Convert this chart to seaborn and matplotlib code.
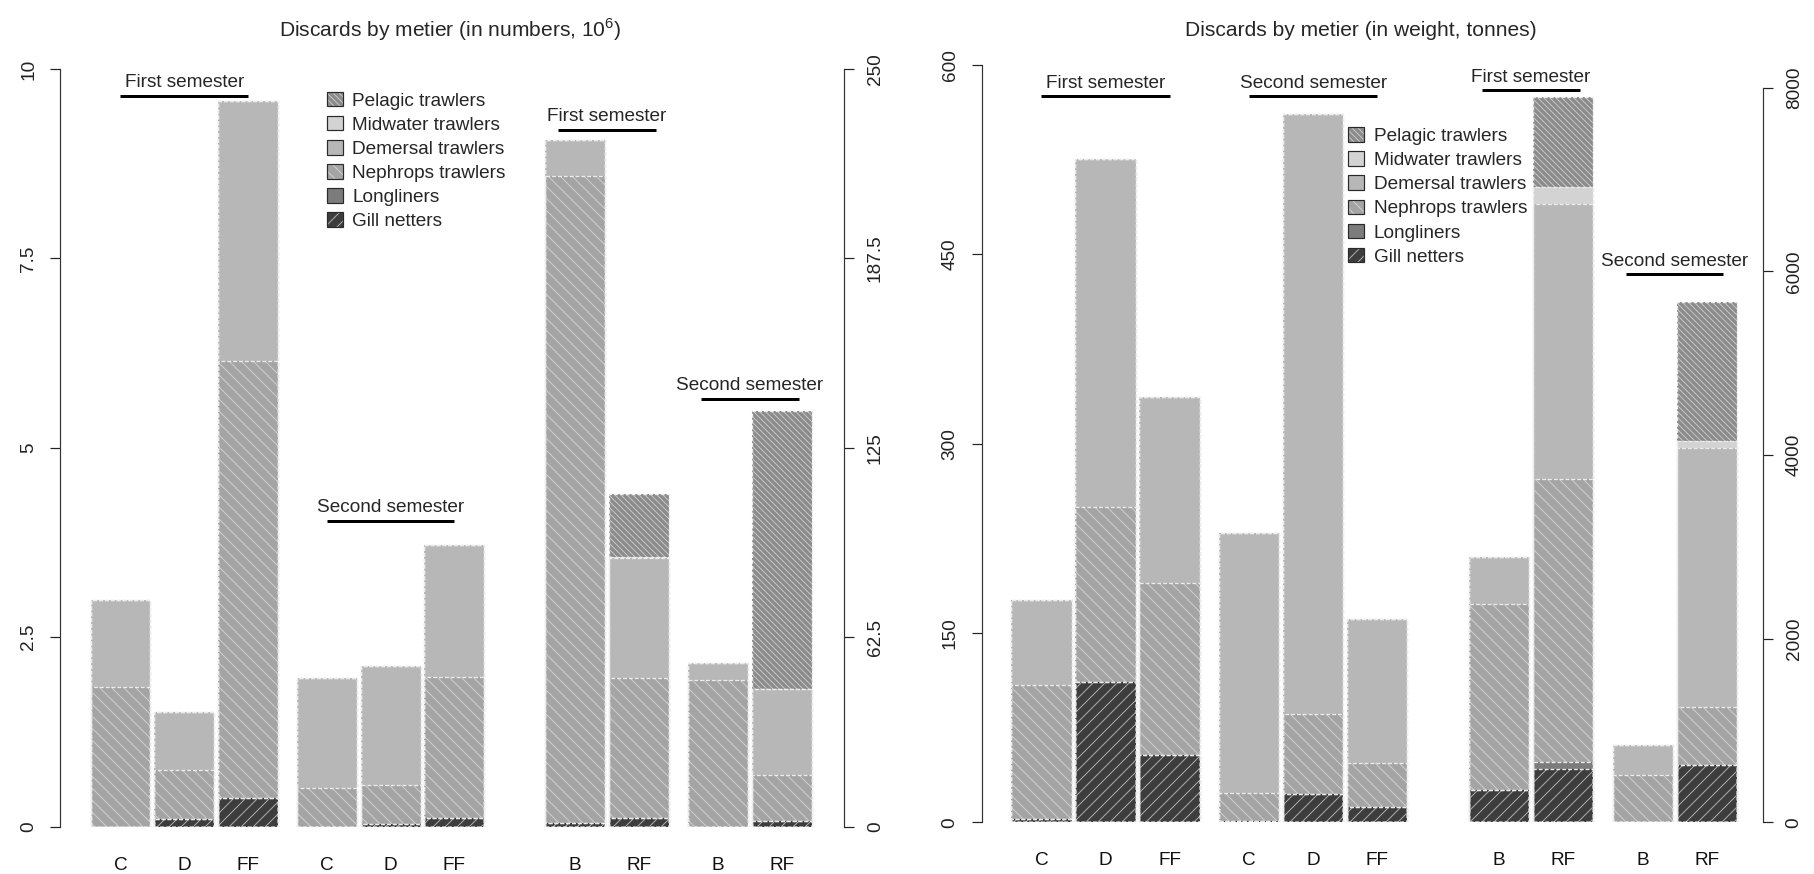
import numpy as np
import seaborn as sns
import matplotlib.pyplot as plt
from matplotlib.patches import Patch
from matplotlib import font_manager

# stacking order, bottom to top
metiers = ["Gill netters", "Longliners", "Nephrops trawlers",
           "Demersal trawlers", "Midwater trawlers", "Pelagic trawlers"]
semesters = ["First semester", "Second semester"]
ports_a = ["C", "D", "FF"]
ports_b = ["B", "RF"]

# discards in numbers (10^6), C D FF (1st sem), C D FF (2nd sem), left axis
num_a = [
    [0.0, 0.10, 0.38, 0.0, 0.035, 0.11],
    [0.0, 0.0, 0.0, 0.0, 0.0, 0.0],
    [1.85, 0.65, 5.77, 0.51, 0.515, 1.86],
    [1.14, 0.77, 3.43, 1.45, 1.57, 1.75],
    [0.0, 0.0, 0.0, 0.0, 0.0, 0.0],
    [0.0, 0.0, 0.0, 0.0, 0.0, 0.0],
]
# B RF (1st sem), B RF (2nd sem), right axis
num_b = [
    [1.1, 3.0, 0.0, 2.0],
    [0.0, 0.0, 0.0, 0.0],
    [213.6, 46.0, 48.4, 15.1],
    [11.9, 39.5, 5.7, 28.3],
    [0.0, 0.6, 0.0, 0.0],
    [0.0, 20.6, 0.0, 91.9],
]
# discards in weight (tonnes)
wt_a = [
    [2.4, 111.4, 53.3, 1.3, 22.2, 11.9],
    [0.0, 0.0, 0.0, 0.0, 0.0, 0.0],
    [106.4, 138.6, 136.0, 21.7, 63.6, 34.8],
    [67.3, 275.5, 147.4, 206.0, 475.1, 114.1],
    [0.0, 0.0, 0.0, 0.0, 0.0, 0.0],
    [0.0, 0.0, 0.0, 0.0, 0.0, 0.0],
]
wt_b = [
    [352, 577, 0, 624],
    [0, 80, 0, 0],
    [2025, 3086, 515, 635],
    [515, 2987, 327, 2814],
    [0, 189, 0, 83],
    [0, 980, 0, 1513],
]

num_ticks_l = [0, 2.5, 5, 7.5, 10]
num_ticks_r = [0, 62.5, 125, 187.5, 250]
wt_ticks_l = [0, 150, 300, 450, 600]
wt_ticks_r = [0, 2000, 4000, 6000, 8000]

# ---- style ----
sns.set_style("white")
names = {f.name for f in font_manager.fontManager.ttflist}
NARROW = "Liberation Sans Narrow" if "Liberation Sans Narrow" in names else "Liberation Sans"
plt.rcParams["font.family"] = ["Liberation Sans", "DejaVu Sans"]
plt.rcParams["mathtext.fontset"] = "custom"
plt.rcParams["mathtext.rm"] = NARROW
plt.rcParams["hatch.linewidth"] = 1.0

face = ["#3d3d3d", "#7c7c7c", "#a4a4a4", "#b7b7b7", "#d3d3d3", "#8b8b8b"]
hatches = ["//", "", "\\\\", "", "", "\\\\\\\\"]
hatch_col = ["#ababab", "#7c7c7c", "#cecece", "#b7b7b7", "#d3d3d3", "#c6c6c6"]

pos_a = [0, 1, 2, 3.24, 4.24, 5.24]
pos_b = [7.14, 8.14, 9.38, 10.38]
BAR_W = 0.94

W, H = 1814, 874
fig = plt.figure(figsize=(W / 72, H / 72), dpi=72)


def px_axes(x0, x1, y_top, y_bot):
    return fig.add_axes([x0 / W, 1 - y_bot / H, (x1 - x0) / W, (y_bot - y_top) / H])


def draw_stack(ax, pos, layers):
    tops = np.cumsum(np.array(layers, dtype=float), axis=0)
    for i in reversed(range(len(metiers))):
        sns.barplot(x=pos, y=tops[i], native_scale=True, orient="x", width=BAR_W,
                    color=face[i], saturation=1, hatch=hatches[i],
                    edgecolor=hatch_col[i], linewidth=0, errorbar=None, ax=ax)
    for i in reversed(range(len(metiers))):
        sns.barplot(x=pos, y=tops[i], native_scale=True, orient="x", width=BAR_W,
                    color="#ececec", fill=False, linewidth=1.3,
                    linestyle=(0, (3, 1.5)), errorbar=None, ax=ax)


def fmt(v):
    return f"{v:g}"


def style(ax, ax2, ticks_l, ticks_r, ylim_r, xlim):
    ax.set_ylim(0, ticks_l[-1])
    ax2.set_ylim(0, ylim_r)
    ax.set_xlim(*xlim)
    for a in (ax, ax2):
        a.set_xlabel("")
        a.set_ylabel("")
        for s in ("top", "bottom"):
            a.spines[s].set_visible(False)
    ax.spines["right"].set_visible(False)
    ax2.spines["left"].set_visible(False)
    ax.spines["left"].set_bounds(0, ticks_l[-1])
    ax2.spines["right"].set_bounds(0, ticks_r[-1])
    for a, t in ((ax, ticks_l), (ax2, ticks_r)):
        a.set_yticks(t)
        a.set_yticklabels([fmt(v) for v in t], rotation=90, va="center")
        a.tick_params(axis="y", direction="out", length=10, width=1.2, pad=13,
                      labelsize=19, colors="#222222")
    ax.spines["left"].set_linewidth(1.2)
    ax.spines["left"].set_color("#333333")
    ax2.spines["right"].set_linewidth(1.2)
    ax2.spines["right"].set_color("#333333")
    ax.set_xticks(pos_a + pos_b)
    ax.set_xticklabels(ports_a * 2 + ports_b * 2)
    ax.tick_params(axis="x", length=0, pad=30, labelsize=19, colors="#111111")
    ax.grid(False)
    ax2.grid(False)


def semester(ax, pos, half, y, label):
    xc = np.mean(pos)
    ax.plot([xc - half, xc + half], [y, y], color="black", lw=3,
            solid_capstyle="butt", clip_on=False)
    ax.annotate(label, (xc, y), xytext=(0, 8.5), textcoords="offset points",
                ha="center", va="baseline", fontsize=19, family=NARROW)


def legend(ax2, anchor):
    handles = [(Patch(facecolor=face[i], hatch=hatches[i], edgecolor=hatch_col[i], lw=0),
                Patch(fill=False, edgecolor="#2a2a2a", lw=1.2))
               for i in reversed(range(len(metiers)))]
    labels = list(reversed(metiers))
    leg = ax2.legend(handles, labels, loc="upper left", bbox_to_anchor=anchor,
                     frameon=False, borderpad=0, borderaxespad=0,
                     handlelength=0.85, handleheight=0.8, handletextpad=0.5,
                     labelspacing=0.33, prop={"family": NARROW, "size": 19})
    leg.set_zorder(10)


# ---- left panel: numbers ----
axL = px_axes(60.3, 843.8, 69, 826.7)
axL2 = axL.twinx()
draw_stack(axL, pos_a, num_a)
draw_stack(axL2, pos_b, num_b)
style(axL, axL2, num_ticks_l, num_ticks_r, num_ticks_r[-1], (-0.945, 11.355))
semester(axL, pos_a[:3], 1.0, 9.65, semesters[0])
semester(axL, pos_a[3:], 1.0, 4.04, semesters[1])
semester(axL, pos_b[:2], 0.77, 9.20, semesters[0])
semester(axL, pos_b[2:], 0.77, 5.65, semesters[1])
legend(axL2, (0.340, 0.970))
fig.text(450.6 / W, 1 - 30 / H, r"Discards by metier (in numbers, $10^6$)",
         ha="center", va="center", fontsize=21, family=NARROW)

# ---- right panel: weight ----
axR = px_axes(981.6, 1762.7, 65, 822.3)
axR2 = axR.twinx()
draw_stack(axR, pos_a, wt_a)
draw_stack(axR2, pos_b, wt_b)
style(axR, axR2, wt_ticks_l, wt_ticks_r, 8247, (-0.933, 11.252))
semester(axR, pos_a[:3], 1.0, 575.2, semesters[0])
semester(axR, pos_a[3:], 1.0, 575.2, semesters[1])
semester(axR, pos_b[:2], 0.76, 580.0, semesters[0])
semester(axR, pos_b[2:], 0.76, 434.2, semesters[1])
legend(axR2, (0.469, 0.918))
fig.text(1360.5 / W, 1 - 30 / H, "Discards by metier (in weight, tonnes)",
         ha="center", va="center", fontsize=21, family=NARROW)

fig.savefig("out.png", dpi=72, facecolor="white")
